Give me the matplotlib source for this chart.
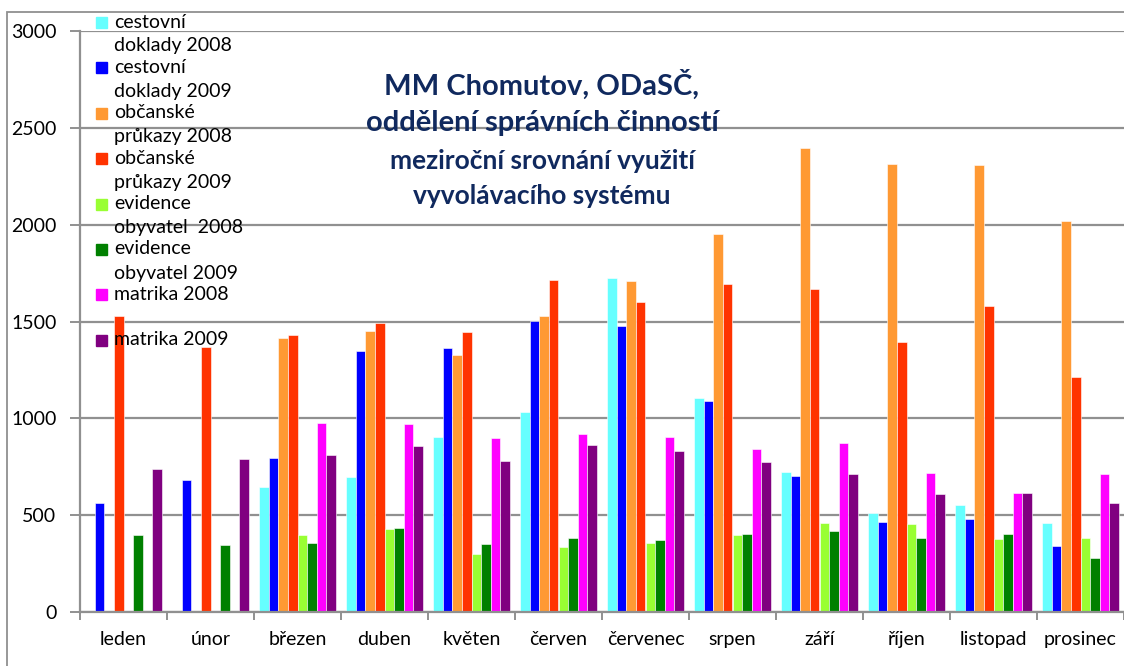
import matplotlib

matplotlib.use("Agg", force=True)
import matplotlib.pyplot as plt
from matplotlib.patches import Rectangle
import numpy as np

months = ["leden", "únor", "březen", "duben", "květen", "červen",
          "červenec", "srpen", "září", "říjen", "listopad", "prosinec"]

series_labels = [
    "cestovní\ndoklady 2008",
    "cestovní\ndoklady 2009",
    "občanské\nprůkazy 2008",
    "občanské\nprůkazy 2009",
    "evidence\nobyvatel  2008",
    "evidence\nobyvatel 2009",
    "matrika 2008",
    "\nmatrika 2009",
]
series_colors = ["#66FFFF", "#0000FF", "#FF9933", "#FF3300",
                 "#99FF33", "#008000", "#FF00FF", "#800080"]

cestovni_2008 = [0, 0, 645, 695, 904, 1031, 1725, 1105, 723, 510, 554, 458]
cestovni_2009 = [564, 682, 794, 1350, 1363, 1501, 1475, 1088, 704, 466, 479, 339]
obcanske_2008 = [0, 0, 1415, 1453, 1327, 1530, 1708, 1952, 2396, 2312, 2308, 2017]
obcanske_2009 = [1530, 1368, 1429, 1491, 1444, 1714, 1599, 1695, 1667, 1394, 1578, 1214]
evidence_2008 = [0, 0, 399, 427, 301, 336, 356, 396, 460, 454, 377, 380]
evidence_2009 = [399, 344, 355, 434, 349, 380, 372, 403, 420, 382, 403, 279]
matrika_2008 = [0, 0, 974, 973, 899, 921, 904, 842, 874, 719, 613, 711]
matrika_2009 = [737, 788, 811, 859, 781, 862, 830, 776, 713, 609, 614, 563]

series = [cestovni_2008, cestovni_2009, obcanske_2008, obcanske_2009,
          evidence_2008, evidence_2009, matrika_2008, matrika_2009]

plt.rcParams["font.family"] = ["Lato", "DejaVu Sans"]

W, H = 1124, 666
fig = plt.figure(figsize=(W / 100, H / 100), dpi=100)
ax = fig.add_axes([80 / W, 1 - 612 / H, 1044 / W, 581 / H])

x = np.arange(len(months))
bw = 0.111
for i, (vals, col) in enumerate(zip(series, series_colors)):
    lw = [0.4 if v > 0 else 0 for v in vals]
    ax.bar(x + (i - 3.5) * bw, vals, width=bw, color=col,
           edgecolor="white", linewidth=lw, zorder=3)

ax.set_xlim(-0.5, len(months) - 0.5)
ax.set_ylim(0, 3000)
ax.set_yticks(np.arange(0, 3001, 500))
ax.set_xticks(np.arange(len(months) + 1) - 0.5, minor=False)
ax.set_xticklabels([])
ax.set_xticks(x, minor=True)
ax.set_xticklabels(months, minor=True, fontsize=14)
ax.tick_params(axis="x", which="minor", length=0, pad=14)
ax.tick_params(axis="x", which="major", length=6, color="#888888", width=1.3)
ax.tick_params(axis="y", length=7, color="#888888", width=1.3, labelsize=14, pad=10)
ax.grid(axis="y", color="#909090", linewidth=1.6, zorder=0)
for side in ("top", "right"):
    ax.spines[side].set_visible(False)
for side in ("left", "bottom"):
    ax.spines[side].set_color("#909090")
    ax.spines[side].set_linewidth(1.6)
ax.spines["bottom"].set_zorder(4)

# legend drawn by hand: marker on first line, label wrapping below
for i, (lab, col) in enumerate(zip(series_labels, series_colors)):
    yc = 22 + 45.4 * i
    fig.patches.append(Rectangle((96 / W, 1 - (yc + 6) / H), 11 / W, 11 / H,
                                 transform=fig.transFigure, color=col,
                                 zorder=5))
    if lab.startswith("\n"):
        fig.text(114 / W, 1 - yc / H, lab.strip(), fontsize=14,
                 va="center", ha="left", zorder=6)
    else:
        first, *rest = lab.split("\n")
        fig.text(114 / W, 1 - yc / H, first, fontsize=14,
                 va="center", ha="left", zorder=6)
        for j, line in enumerate(rest):
            fig.text(114 / W, 1 - (yc + 24 * (j + 1)) / H, line, fontsize=14,
                     va="center", ha="left", zorder=6)

title_color = "#10295E"
fig.text(542 / W, 1 - 85 / H, "MM Chomutov, ODaSČ,", fontsize=21,
         fontweight="bold", color=title_color, ha="center", va="center")
fig.text(542 / W, 1 - 123 / H, "oddělení správních činností", fontsize=21,
         fontweight="bold", color=title_color, ha="center", va="center")
fig.text(542 / W, 1 - 161 / H, "meziroční srovnání využití", fontsize=19,
         fontweight="bold", color=title_color, ha="center", va="center")
fig.text(542 / W, 1 - 196 / H, "vyvolávacího systému", fontsize=19,
         fontweight="bold", color=title_color, ha="center", va="center")

# outer chart frame
fig.patches.append(Rectangle((7 / W, -0.01), 1.2, 1 - 12 / H + 0.01,
                             transform=fig.transFigure, fill=False,
                             edgecolor="#909090", linewidth=1.3, zorder=10))

fig.savefig("out.png", dpi=100)
